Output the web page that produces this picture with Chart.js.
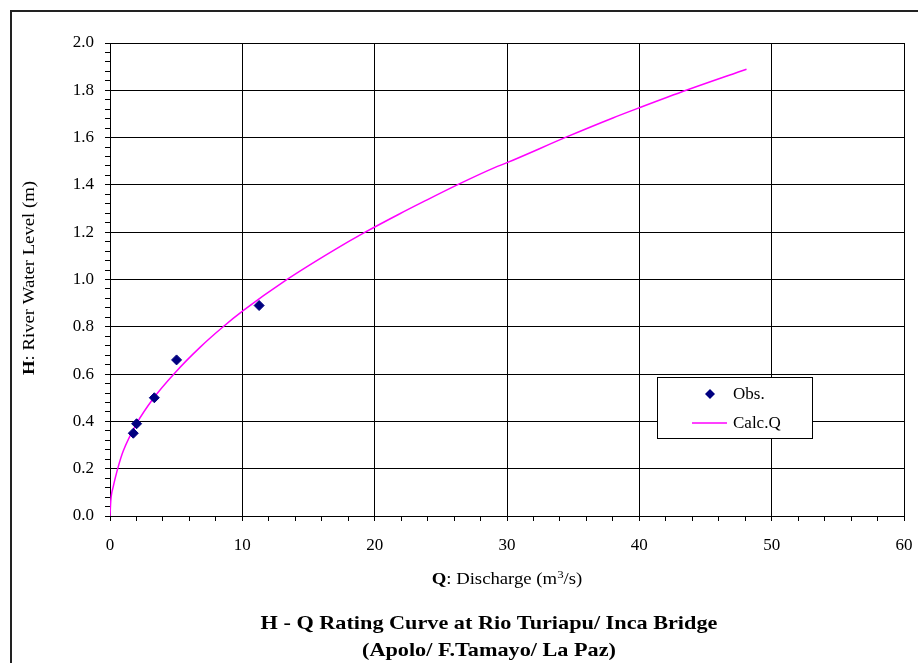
<!DOCTYPE html>
<html>
<head>
<meta charset="utf-8">
<script src="https://cdn.jsdelivr.net/npm/chart.js@4.4.1/dist/chart.umd.min.js"></script>
<style>
  html, body { margin: 0; padding: 0; background: #fff; }
</style>
</head>
<body>
<canvas id="grafico-curva" width="918" height="663"></canvas>
<script>
// Caudales observados (Q en m3/s, H en m)
const obsQ = [1.76, 2.01, 3.35, 5.03, 11.27];
const obsH = [0.35, 0.39, 0.50, 0.66, 0.89];

// Curva calculada
const calcQ = [0, 0.06, 0.25, 0.63, 1.0, 2.0, 3.27, 4.9, 6.8, 8.55, 10.06, 13.3, 16.9, 19.25, 21.9, 23.65, 26.2, 29.06, 30.0, 34.6, 38.0, 40.0, 43.65, 48.1];
const calcH = [0, 0.065, 0.125, 0.21, 0.275, 0.39, 0.497, 0.605, 0.713, 0.80, 0.868, 0.997, 1.123, 1.199, 1.278, 1.328, 1.399, 1.473, 1.494, 1.605, 1.683, 1.726, 1.802, 1.889];

const seriesNames = ['Obs.', 'Calc.Q'];
const titleLines = ['H - Q Rating Curve at Rio Turiapu/ Inca Bridge', '(Apolo/ F.Tamayo/ La Paz)'];

const SERIF = '"Liberation Serif", "Times New Roman", serif';
const ESTIRAR = 1.17; // el texto del original es algo más ancho

function esMayor(v, paso) {
  const r = v / paso;
  return Math.abs(r - Math.round(r)) < 1e-6;
}

// Texto centrado con varias partes (negrita, superíndice...)
function textoMixto(ctx, partes, x, y, rot) {
  ctx.save();
  ctx.translate(x, y);
  if (rot) ctx.rotate(rot);
  ctx.scale(ESTIRAR, 1);
  let total = 0;
  partes.forEach(p => { ctx.font = p.font; total += ctx.measureText(p.text).width; });
  let cx = -total / 2;
  ctx.textAlign = 'left';
  partes.forEach(p => {
    ctx.font = p.font;
    ctx.fillText(p.text, cx, p.dy || 0);
    cx += ctx.measureText(p.text).width;
  });
  ctx.restore();
}

const decoracion = {
  id: 'decoracion',
  beforeDraw(chart) {
    const ctx = chart.ctx;
    ctx.save();
    ctx.fillStyle = '#fff';
    ctx.fillRect(0, 0, chart.width, chart.height);
    ctx.restore();
  },
  afterDraw(chart) {
    const ctx = chart.ctx;
    ctx.save();

    // Marco exterior
    ctx.strokeStyle = '#222';
    ctx.lineWidth = 2;
    ctx.beginPath();
    ctx.moveTo(11, 700);
    ctx.lineTo(11, 11);
    ctx.lineTo(930, 11);
    ctx.stroke();

    ctx.fillStyle = '#000';
    ctx.textBaseline = 'middle';

    // Título eje X
    textoMixto(ctx, [
      { text: 'Q', font: 'bold 16px ' + SERIF },
      { text: ': Discharge (m', font: '16px ' + SERIF },
      { text: '3', font: '11px ' + SERIF, dy: -5 },
      { text: '/s)', font: '16px ' + SERIF }
    ], 507, 580);

    // Título eje Y
    textoMixto(ctx, [
      { text: 'H', font: 'bold 16px ' + SERIF },
      { text: ': River Water Level (m)', font: '16px ' + SERIF }
    ], 30, 278, -Math.PI / 2);

    // Título principal
    textoMixto(ctx, [{ text: titleLines[0], font: 'bold 19px ' + SERIF }], 489, 624);
    textoMixto(ctx, [{ text: titleLines[1], font: 'bold 19px ' + SERIF }], 489, 651);

    // Leyenda
    ctx.fillStyle = '#fff';
    ctx.fillRect(657.5, 377.5, 155, 61);
    ctx.strokeStyle = '#000';
    ctx.lineWidth = 1;
    ctx.strokeRect(657.5, 377.5, 155, 61);

    const dsObs = chart.data.datasets[0];
    const dsCalc = chart.data.datasets[1];
    ctx.fillStyle = dsObs.backgroundColor;
    ctx.beginPath();
    ctx.moveTo(705, 394);
    ctx.lineTo(710, 389);
    ctx.lineTo(715, 394);
    ctx.lineTo(710, 399);
    ctx.closePath();
    ctx.fill();

    ctx.strokeStyle = dsCalc.borderColor;
    ctx.lineWidth = 1.5;
    ctx.beginPath();
    ctx.moveTo(692, 423);
    ctx.lineTo(727, 423);
    ctx.stroke();

    ctx.fillStyle = '#000';
    ctx.textAlign = 'left';
    ctx.font = '17px ' + SERIF;
    ctx.fillText(dsObs.label, 733, 395);
    ctx.fillText(dsCalc.label, 733, 424);

    ctx.restore();
  }
};

const canvas = document.getElementById('grafico-curva');
const grafico = new Chart(canvas, {
  type: 'scatter',
  data: {
    datasets: [{
      label: seriesNames[0],
      data: obsQ.map((q, i) => ({ x: q, y: obsH[i] })),
      backgroundColor: '#000080',
      borderColor: '#000080',
      pointStyle: 'rectRot',
      pointRadius: 5,
      borderWidth: 1,
      showLine: false,
      order: 1
    }, {
      label: seriesNames[1],
      data: calcQ.map((q, i) => ({ x: q, y: calcH[i] })),
      borderColor: '#ff00ff',
      backgroundColor: '#ff00ff',
      borderWidth: 1.5,
      pointRadius: 0,
      showLine: true,
      cubicInterpolationMode: 'monotone',
      order: 2
    }]
  },
  options: {
    responsive: false,
    animation: false,
    layout: { padding: { top: 43, right: 14, left: 0, bottom: 0 } },
    plugins: {
      legend: { display: false },
      title: { display: false },
      tooltip: { enabled: false }
    },
    scales: {
      x: {
        type: 'linear',
        min: 0,
        max: 60,
        afterFit: scale => {
          scale.height = 147;
          scale.paddingLeft = 0;
          scale.paddingRight = 0;
        },
        ticks: {
          stepSize: 2,
          autoSkip: false,
          maxRotation: 0,
          padding: 14,
          color: '#000',
          font: { family: SERIF, size: 17 },
          callback: v => esMayor(v, 10) ? String(Math.round(v)) : ''
        },
        grid: {
          color: c => (c.tick && esMayor(c.tick.value, 10)) ? '#000' : 'rgba(0,0,0,0)',
          tickColor: '#000',
          tickLength: 5
        },
        border: { color: '#000', width: 1 }
      },
      y: {
        type: 'linear',
        min: 0,
        max: 2,
        afterFit: scale => {
          scale.width = 110;
          scale.paddingTop = 0;
          scale.paddingBottom = 0;
        },
        ticks: {
          stepSize: 0.04,
          autoSkip: false,
          padding: 11,
          color: '#000',
          font: { family: SERIF, size: 17 },
          callback: v => esMayor(v, 0.2) ? v.toFixed(1) : ''
        },
        grid: {
          color: c => (c.tick && esMayor(c.tick.value, 0.2)) ? '#000' : 'rgba(0,0,0,0)',
          tickColor: '#000',
          tickLength: 5
        },
        border: { color: '#000', width: 1 }
      }
    }
  },
  plugins: [decoracion]
});
</script>
</body>
</html>
